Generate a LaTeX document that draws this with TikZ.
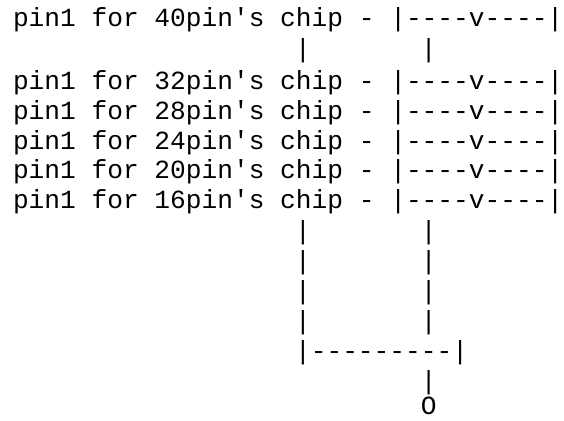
\documentclass[tikz,border=0pt]{standalone}
\usepackage{fontspec}
\setmonofont{Liberation Mono}
\usepackage{tikz}
\usetikzlibrary{positioning}

\tikzset{
  chipline/.style={font=\ttfamily\fontsize{26.2}{30}\selectfont, anchor=base west, inner sep=0pt, text=black},
}

\begin{document}
\begin{tikzpicture}[x=1pt,y=-1pt]
          \useasboundingbox (0,0) rectangle (564,420);
          \node[chipline] (pin40) at (12.8,27) {pin1 for 40pin's chip - |----v----|};
          \node[chipline] (gap40) at (294.9,58) {|~~~~~~~|};
          \foreach \pins/\y in {32/89,28/119,24/149,20/178.5,16/208}
          {
            \node[chipline] (pin\pins) at (12.8,\y) {pin1 for \pins pin's chip - |----v----|};
          }

          \foreach \k/\y in {1/239.7,2/269.7,3/299.7,4/329.7}
          {
            \node[chipline] (leg\k) at (294.9,\y) {|~~~~~~~|};
          }
          \node[chipline] (join) at (294.9,359.7) {|---------|};
          \node[chipline] (stem) at (294.9,389.7) {~~~~~~~~|};
          \node[chipline, text depth=0pt] (out) at (294.9,414) {~~~~~~~~O};
        \end{tikzpicture}
\end{document}
